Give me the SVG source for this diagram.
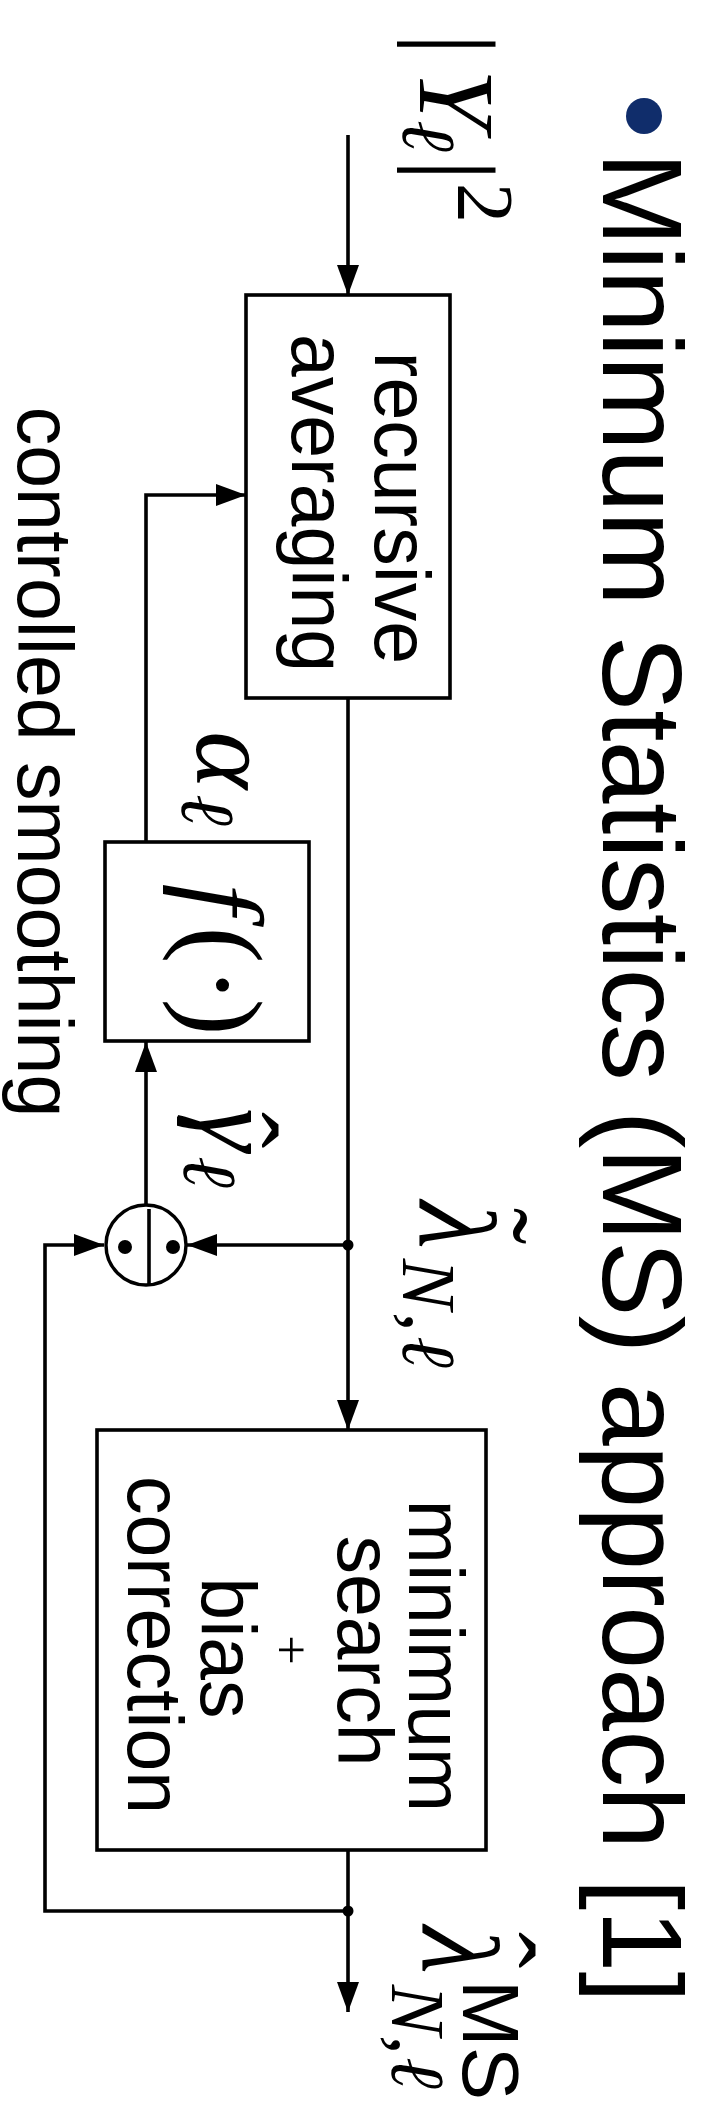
<svg xmlns="http://www.w3.org/2000/svg" width="713" height="2115" viewBox="0 0 713 2115">
<defs>
<marker id="arr" markerUnits="userSpaceOnUse" markerWidth="30" markerHeight="24" refX="30" refY="12" orient="auto">
<path d="M0,1 L30,12 L0,23 z" fill="#000"/>
</marker>
</defs>
<style>
.box{fill:#fff;stroke:#000;stroke-width:3.6}
.ln{fill:none;stroke:#000;stroke-width:3.6}
.dot{fill:#000}
.sans{font-family:"Liberation Sans",Arial,sans-serif;fill:#000}
.lbl{font-family:"Liberation Sans",Arial,sans-serif;font-size:77px;text-anchor:middle;fill:#000}
.mi{font-family:"Liberation Serif","DejaVu Serif",serif;font-style:italic;text-anchor:middle;fill:#000}
.mr{font-family:"Liberation Serif","DejaVu Serif",serif;text-anchor:middle;fill:#000}
</style>
<rect width="713" height="2115" fill="#fff"/>

<g id="title">
<circle cx="644" cy="116" r="18" fill="#102d6b"/>
<text class="sans" transform="rotate(90)" x="152" y="-603" font-size="113" textLength="1851">Minimum Statistics (MS) approach [1]</text>
</g>

<g id="connectors">
<line class="ln" x1="348" y1="135" x2="348" y2="295" marker-end="url(#arr)"/>
<line class="ln" x1="348" y1="698" x2="348" y2="1430" marker-end="url(#arr)"/>
<line class="ln" x1="348" y1="1245" x2="187" y2="1245" marker-end="url(#arr)"/>
<line class="ln" x1="146" y1="1204" x2="146" y2="1042" marker-end="url(#arr)"/>
<polyline class="ln" points="146,842 146,495 246,495" marker-end="url(#arr)"/>
<line class="ln" x1="348" y1="1850" x2="348" y2="2012" marker-end="url(#arr)"/>
<polyline class="ln" points="348,1911 45,1911 45,1245 104,1245" marker-end="url(#arr)"/>
<circle class="dot" cx="348" cy="1245" r="5.5"/>
<circle class="dot" cx="348" cy="1911" r="5.5"/>
</g>

<g id="input-label">
<text class="mr" transform="rotate(90)" x="44" y="-420" font-size="108">|</text>
<text class="mi" transform="rotate(90)" x="99" y="-420" font-size="108">Y</text>
<text class="mi" transform="rotate(90)" x="136" y="-403" font-size="76">ℓ</text>
<text class="mr" transform="rotate(90)" x="170" y="-420" font-size="108">|</text>
<text class="mr" transform="rotate(90)" x="203" y="-458" font-size="80">2</text>
</g>

<g id="recursive-averaging">
<rect class="box" x="246" y="295" width="204" height="403"/>
<text class="lbl" transform="rotate(90)" x="508" y="-375">recursive</text>
<text class="lbl" transform="rotate(90)" x="503" y="-292">averaging</text>
</g>

<g id="alpha-label">
<text class="mi" transform="rotate(90)" x="760" y="-197" font-size="110">α</text>
<text class="mi" transform="rotate(90)" x="810" y="-182" font-size="76">ℓ</text>
</g>

<g id="f-box">
<rect class="box" x="105" y="842" width="204" height="199"/>
<text class="mi" transform="rotate(90)" x="899" y="-186" font-size="110">f</text>
<text class="mr" transform="rotate(90)" x="945" y="-186" font-size="110">(</text>
<text class="mr" transform="rotate(90)" x="985" y="-186" font-size="110">·</text>
<text class="mr" transform="rotate(90)" x="1017" y="-186" font-size="110">)</text>
</g>

<g id="gamma-label">
<text class="mi" transform="rotate(90)" x="1130" y="-200" font-size="110">γ</text>
<text class="mr" transform="rotate(90)" x="1130" y="-202" font-size="110">ˆ</text>
<text class="mi" transform="rotate(90)" x="1172" y="-184" font-size="76">ℓ</text>
</g>

<g id="divide-node">
<circle cx="146" cy="1245" r="40" fill="#fff" stroke="#000" stroke-width="3.4"/>
<line class="ln" x1="149" y1="1209" x2="149" y2="1285"/>
<circle class="dot" cx="125" cy="1247" r="7"/>
<circle class="dot" cx="173" cy="1247" r="7"/>
</g>

<g id="lambda-tilde-label">
<text class="mi" transform="rotate(90)" x="1225" y="-420" font-size="110">λ</text>
<text class="mr" transform="rotate(90)" x="1226" y="-453" font-size="110">˜</text>
<text class="mi" transform="rotate(90)" x="1284" y="-403" font-size="76">N</text>
<text class="mi" transform="rotate(90)" x="1322" y="-405" font-size="76">,</text>
<text class="mi" transform="rotate(90)" x="1352" y="-403" font-size="76">ℓ</text>
</g>

<g id="minimum-search">
<rect class="box" x="97" y="1430" width="389" height="420"/>
<text class="lbl" transform="rotate(90)" x="1656" y="-409">minimum</text>
<text class="lbl" transform="rotate(90)" x="1651" y="-338">search</text>
<text class="mr" transform="rotate(90)" x="1650" y="-274" font-size="53">+</text>
<text class="lbl" transform="rotate(90)" x="1648" y="-201">bias</text>
<text class="lbl" transform="rotate(90)" x="1645" y="-128">correction</text>
</g>

<g id="output-label">
<text class="mi" transform="rotate(90)" x="1950" y="-423" font-size="110">λ</text>
<text class="mr" transform="rotate(90)" x="1950" y="-459" font-size="110">ˆ</text>
<text class="sans" transform="rotate(90)" x="2040" y="-463" font-size="80" text-anchor="middle">MS</text>
<text class="mi" transform="rotate(90)" x="2010" y="-392" font-size="76">N</text>
<text class="mi" transform="rotate(90)" x="2045" y="-392" font-size="76">,</text>
<text class="mi" transform="rotate(90)" x="2073" y="-392" font-size="76">ℓ</text>
</g>

<g id="caption">
<text class="lbl" transform="rotate(90)" x="762" y="-18">controlled smoothing</text>
</g>
</svg>
